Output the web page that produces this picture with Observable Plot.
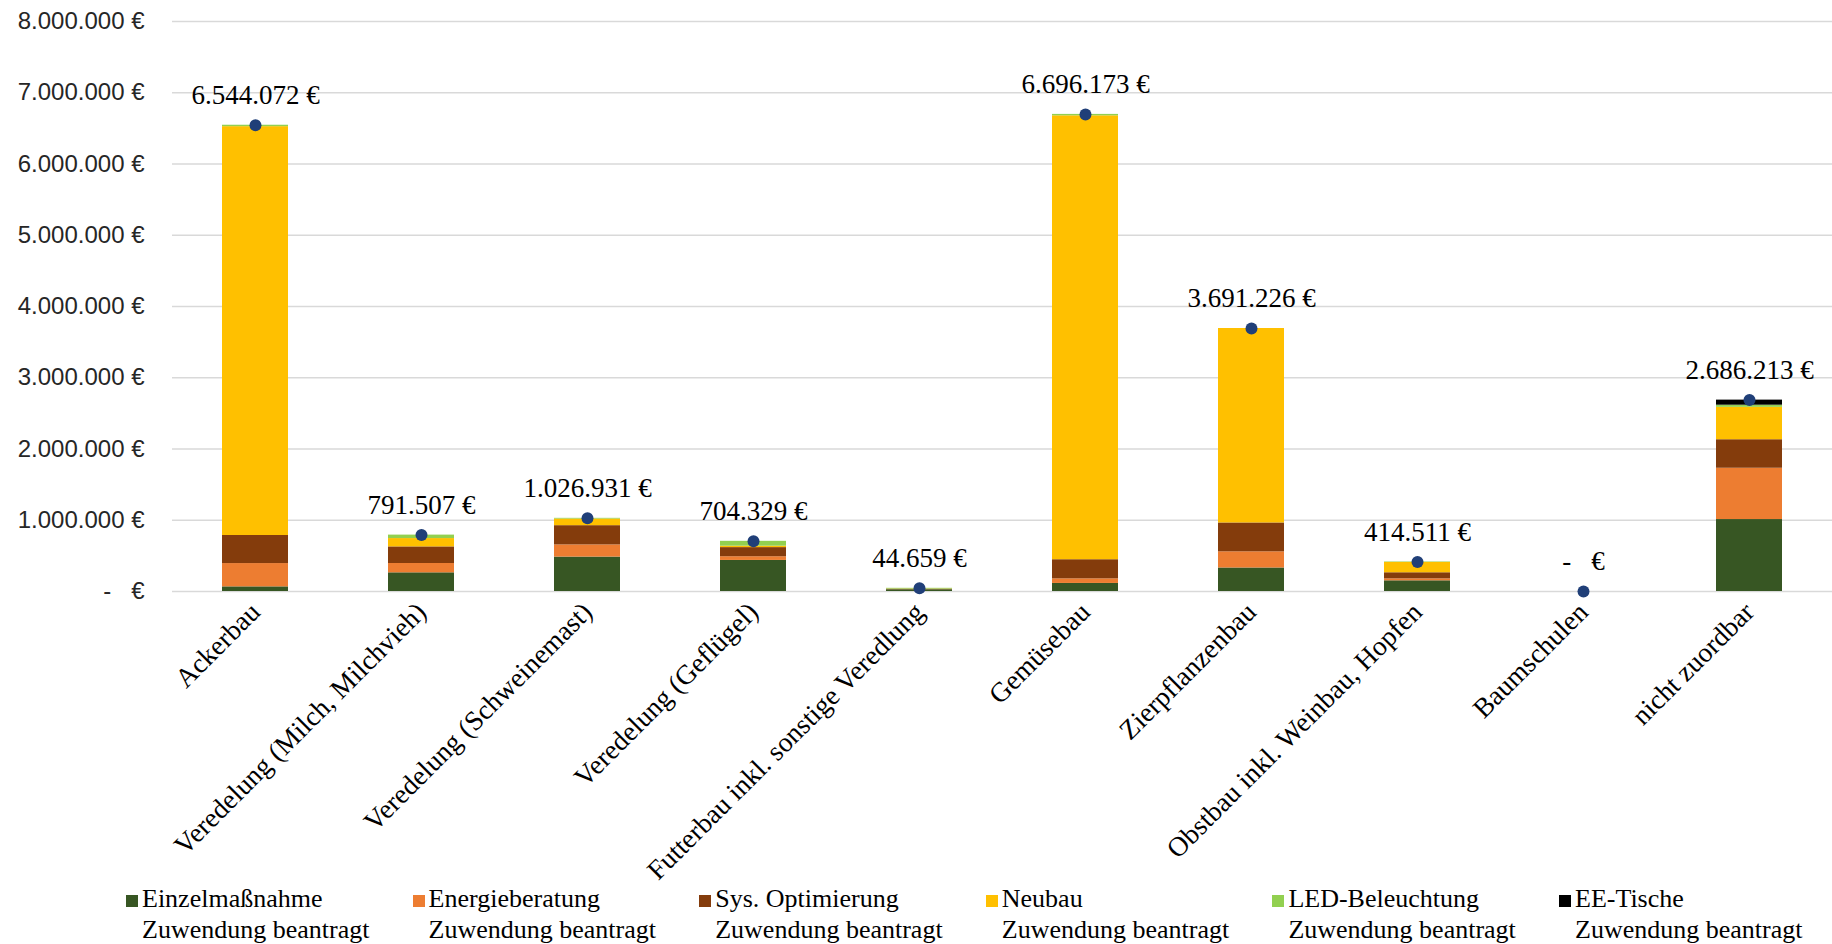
<!DOCTYPE html>
<html>
<head>
<meta charset="utf-8">
<script src="https://cdn.jsdelivr.net/npm/d3@7"></script>
<script src="https://cdn.jsdelivr.net/npm/@observablehq/plot@0.6"></script>
<style>
  html, body { margin: 0; padding: 0; background: #fff; }
  body { width: 1832px; height: 944px; overflow: hidden; position: relative; }
  #chart svg { overflow: visible; display: block; }
  #legend { position: absolute; top: 883px; left: 0; width: 1832px; height: 61px;
            font-family: "Liberation Serif", "Times New Roman", serif; font-size: 26px; line-height: 31px; color: #000; }
  .item { position: absolute; top: 0; white-space: nowrap; }
  .sw { position: absolute; left: 0; top: 12px; width: 12px; height: 12px; }
  .txt { position: absolute; left: 16px; top: 0; }
</style>
</head>
<body>
<div id="chart"></div>
<div id="legend"></div>
<script>
// ---- data ----
const categories = [
  "Ackerbau",
  "Veredelung (Milch, Milchvieh)",
  "Veredelung (Schweinemast)",
  "Veredelung (Geflügel)",
  "Futterbau inkl. sonstige Veredlung",
  "Gemüsebau",
  "Zierpflanzenbau",
  "Obstbau inkl. Weinbau, Hopfen",
  "Baumschulen",
  "nicht zuordbar"
];
const seriesNames = ["Einzelmaßnahme", "Energieberatung", "Sys. Optimierung", "Neubau", "LED-Beleuchtung", "EE-Tische"];
const seriesSuffix = "Zuwendung beantragt";
const einzelmassnahme = [65000, 262000, 483000, 436000, 25000, 113000, 330000, 150000, 0, 1010000];
const energieberatung = [327000, 131000, 171000, 52000, 2000, 65000, 227000, 28000, 0, 720000];
const sysOptimierung  = [394000, 233000, 270000, 128000, 5000, 268000, 405000, 85000, 0, 400000];
const neubau          = [5738072, 117000, 92931, 20000, 2659, 6230173, 2729226, 145000, 0, 455000];
const ledBeleuchtung  = [20000, 48507, 10000, 68329, 10000, 20000, 0, 6511, 0, 30000];
const eeTische        = [0, 0, 0, 0, 0, 0, 0, 0, 0, 71213];
const totals = [6544072, 791507, 1026931, 704329, 44659, 6696173, 3691226, 414511, 0, 2686213];
const yTicks = [0, 1000000, 2000000, 3000000, 4000000, 5000000, 6000000, 7000000, 8000000];
const colors = ["#375623", "#ED7D31", "#843C0C", "#FFC000", "#92D050", "#000000"];

// ---- build table ----
const seriesValues = [einzelmassnahme, energieberatung, sysOptimierung, neubau, ledBeleuchtung, eeTische];
const rows = [];
seriesValues.forEach((arr, si) => arr.forEach((v, ci) => rows.push({cat: categories[ci], series: seriesNames[si], value: v})));
const totalRows = categories.map((c, i) => ({cat: c, total: totals[i]}));

const euro = v => v === 0 ? "-   €" : d3.format(",")(v).replace(/,/g, ".") + " €";

const chart = Plot.plot({
  width: 1832,
  height: 883,
  marginLeft: 172,
  marginRight: 0,
  marginTop: 21,
  marginBottom: 292,
  style: {fontFamily: "Liberation Serif, serif", fontSize: "26px", color: "#000", background: "#fff"},
  x: {domain: categories, paddingInner: 0.6, paddingOuter: 0.3, label: null},
  y: {domain: [0, 8000000], label: null},
  color: {domain: seriesNames, range: colors},
  marks: [
    Plot.gridY(yTicks, {stroke: "#D9D9D9", strokeOpacity: 1, strokeWidth: 1.5}),
    Plot.axisY({ticks: yTicks, tickFormat: euro, tickSize: 0, tickPadding: 28, label: null,
                fontFamily: "Liberation Sans, sans-serif", fontSize: 24, fill: "#262626"}),
    Plot.barY(rows, {x: "cat", y: "value", fill: "series"}),
    Plot.dot(totalRows, {x: "cat", y: "total", r: 6, fill: "#203F78", stroke: "none"}),
    Plot.text(totalRows, {x: "cat", y: "total", text: d => euro(d.total), dy: -30,
                          fontSize: 27, fontFamily: "Liberation Serif, serif", fill: "#000"}),
    Plot.axisX({tickRotate: -45, tickSize: 0, tickPadding: 16, label: null,
                fontSize: 27.5, fontFamily: "Liberation Serif, serif", fill: "#000"})
  ]
});
document.getElementById("chart").appendChild(chart);

// ---- legend ----
const legend = document.getElementById("legend");
seriesNames.forEach((name, i) => {
  const item = document.createElement("div");
  item.className = "item";
  item.style.left = (126 + i * 286.6) + "px";
  const sw = document.createElement("span");
  sw.className = "sw";
  sw.style.background = colors[i];
  const txt = document.createElement("span");
  txt.className = "txt";
  txt.innerHTML = name + "<br>" + seriesSuffix;
  item.appendChild(sw);
  item.appendChild(txt);
  legend.appendChild(item);
});
</script>
</body>
</html>
